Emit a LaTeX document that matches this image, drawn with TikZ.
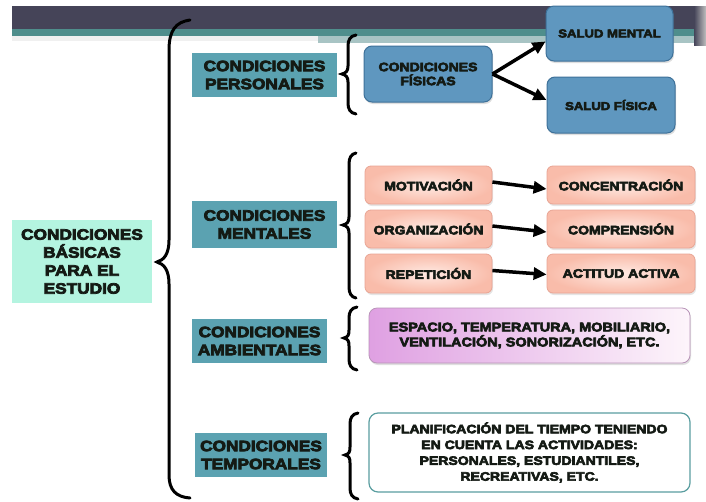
\documentclass[tikz,border=0pt]{standalone}
\usepackage{fontspec}
\setmainfont{Liberation Sans}[BoldFeatures={FakeStretch=1.15,FakeBold=5}]
\usetikzlibrary{arrows.meta,shadows}
\definecolor{txtc}{HTML}{141A14}
\definecolor{darkband}{HTML}{454458}
\definecolor{tealband}{HTML}{4F8E8C}
\definecolor{lightband}{HTML}{A8C4C4}
\definecolor{catc}{HTML}{5BA2B1}
\definecolor{mintc}{HTML}{B4F4E0}
\definecolor{steel}{HTML}{5F97BF}
\definecolor{steelb}{HTML}{3E7199}
\definecolor{pinkin}{HTML}{FFEAE3}
\definecolor{pinkout}{HTML}{F9BCAA}
\definecolor{pinkb}{HTML}{E9A594}
\definecolor{purpl}{HTML}{DFA0E2}
\definecolor{purpr}{HTML}{FDF5FB}
\definecolor{purpb}{HTML}{B894B8}
\definecolor{tempb}{HTML}{5A9EA0}
\newcommand\mybrace[6]{%
 \draw[bracestyle] (#1,#4) .. controls ({#2+2},{#4+1}) and (#2,{#4+5}) .. (#2,{#4+11})
  -- (#2,{#5-8}) .. controls (#2,{#5-3}) and ({#3+4},{#5-1}) .. (#3,#5)
  .. controls ({#3+4},{#5+1}) and (#2,{#5+3}) .. (#2,{#5+8})
  -- (#2,{#6-11}) .. controls (#2,{#6-5}) and ({#2+2},{#6-1}) .. (#1,#6);}
\tikzset{
 txt/.style={text=txtc, align=center, inner sep=0pt},
 big/.style={font=\fontsize{15}{18}\selectfont\bfseries},
 catbox/.style={txt, big, fill=catc},
 steelbox/.style={txt, fill=steel, draw=steelb, line width=1pt, rounded corners=8pt,
   drop shadow={opacity=0.25, shadow xshift=1pt, shadow yshift=-2pt}},
 pinkbox/.style={txt, font=\fontsize{12.2}{15}\selectfont\bfseries, inner color=pinkin, outer color=pinkout,
   draw=pinkb, line width=0.8pt, rounded corners=6pt, minimum height=38pt,
   drop shadow={opacity=0.2, shadow xshift=1pt, shadow yshift=-2pt}},
 bracestyle/.style={line width=3pt, black, line cap=round},
 arr/.style={line width=3.5pt, -{Triangle[length=13pt,width=12pt]}, black},
}
\begin{document}
\begin{tikzpicture}[x=1pt,y=-1pt]
\useasboundingbox (0,0) rectangle (706,501);
\fill[white] (0,0) rectangle (706,501);
% header bands
\fill[darkband] (12,6) rectangle (706,29);
\fill[tealband] (12,29) rectangle (706,36);
\fill[lightband] (318,36) rectangle (700,43);
\fill[black!6] (12,36) rectangle (318,41);
\shade[left color=darkband, right color=black!25] (694,6) rectangle (706,45);

% main node
\node[txt, big, fill=mintc, minimum width=140pt, minimum height=83pt] (main) at (82,261.5)
  {CONDICIONES\\BÁSICAS\\PARA EL\\ESTUDIO};

% big brace
\draw[bracestyle] (190,20) .. controls (176,22) and (169,30) .. (169,50)
  -- (169,240) .. controls (169,254) and (164,260) .. (157,262)
  .. controls (164,264) and (169,270) .. (169,284)
  -- (169,475) .. controls (169,490) and (176,497) .. (190,498);

% categories
\node[catbox, minimum width=145pt, minimum height=44pt] (pers) at (264.5,75) {CONDICIONES\\PERSONALES};
\node[catbox, minimum width=145pt, minimum height=47pt] (ment) at (264.5,224.5) {CONDICIONES\\MENTALES};
\node[catbox, minimum width=135pt, minimum height=44pt] (amb) at (259.5,341) {CONDICIONES\\AMBIENTALES};
\node[catbox, minimum width=132pt, minimum height=44pt] (temp) at (261,455) {CONDICIONES\\TEMPORALES};

% small braces
\mybrace{356}{348}{342}{35}{74}{114}
\mybrace{356}{349}{343}{153}{225}{298}
\mybrace{357}{349}{344}{307}{338}{370}
\mybrace{358}{350}{345}{413}{455}{499}

% personales
\node[steelbox, font=\fontsize{12.2}{14}\selectfont\bfseries, minimum width=128pt, minimum height=56pt] (fis) at (428,74) {CONDICIONES\\FÍSICAS};
\node[steelbox, font=\fontsize{11.4}{14}\selectfont\bfseries, minimum width=127pt, minimum height=55pt] (sm) at (609.5,33.5) {SALUD MENTAL};
\node[steelbox, font=\fontsize{11.4}{14}\selectfont\bfseries, minimum width=128pt, minimum height=56pt] (sf) at (611,105) {SALUD FÍSICA};
\draw[arr] (fis.east) -- ([yshift=-8pt]sm.west);
\draw[arr] (fis.east) -- ([yshift=5pt]sf.west);

% mentales
\node[pinkbox, minimum width=127pt] (mot) at (428.5,185) {MOTIVACIÓN};
\node[pinkbox, minimum width=127pt] (org) at (428.5,229) {ORGANIZACIÓN};
\node[pinkbox, minimum width=127pt, minimum height=39pt] (rep) at (428.5,273.5) {REPETICIÓN};
\node[pinkbox, minimum width=148pt] (con) at (621,185) {CONCENTRACIÓN};
\node[pinkbox, minimum width=148pt] (com) at (621,229) {COMPRENSIÓN};
\node[pinkbox, minimum width=148pt, minimum height=39pt] (act) at (621,273.5) {ACTITUD ACTIVA};
\draw[arr] ([yshift=3pt]mot.east) -- ([yshift=-4pt]con.west);
\draw[arr] ([yshift=3pt]org.east) -- ([yshift=-3pt]com.west);
\draw[arr] ([yshift=3pt]rep.east) -- ([yshift=-1pt]act.west);

% ambientales
\node[txt, font=\fontsize{12.6}{15}\selectfont\bfseries, left color=purpl, right color=purpr,
  draw=purpb, line width=0.8pt, rounded corners=8pt, minimum width=321pt, minimum height=55pt,
  drop shadow={opacity=0.25, shadow xshift=1pt, shadow yshift=-2pt}] (ambt) at (529.5,335.5)
  {ESPACIO, TEMPERATURA, MOBILIARIO,\\VENTILACIÓN, SONORIZACIÓN, ETC.};

% temporales
\node[txt, font=\fontsize{12.2}{15.8}\selectfont\bfseries, fill=white, draw=tempb, line width=1.2pt,
  rounded corners=9pt, minimum width=321pt, minimum height=79pt] (tempt) at (529.5,452.5)
  {PLANIFICACIÓN DEL TIEMPO TENIENDO\\EN CUENTA LAS ACTIVIDADES:\\PERSONALES, ESTUDIANTILES,\\RECREATIVAS, ETC.};
\end{tikzpicture}
\end{document}
